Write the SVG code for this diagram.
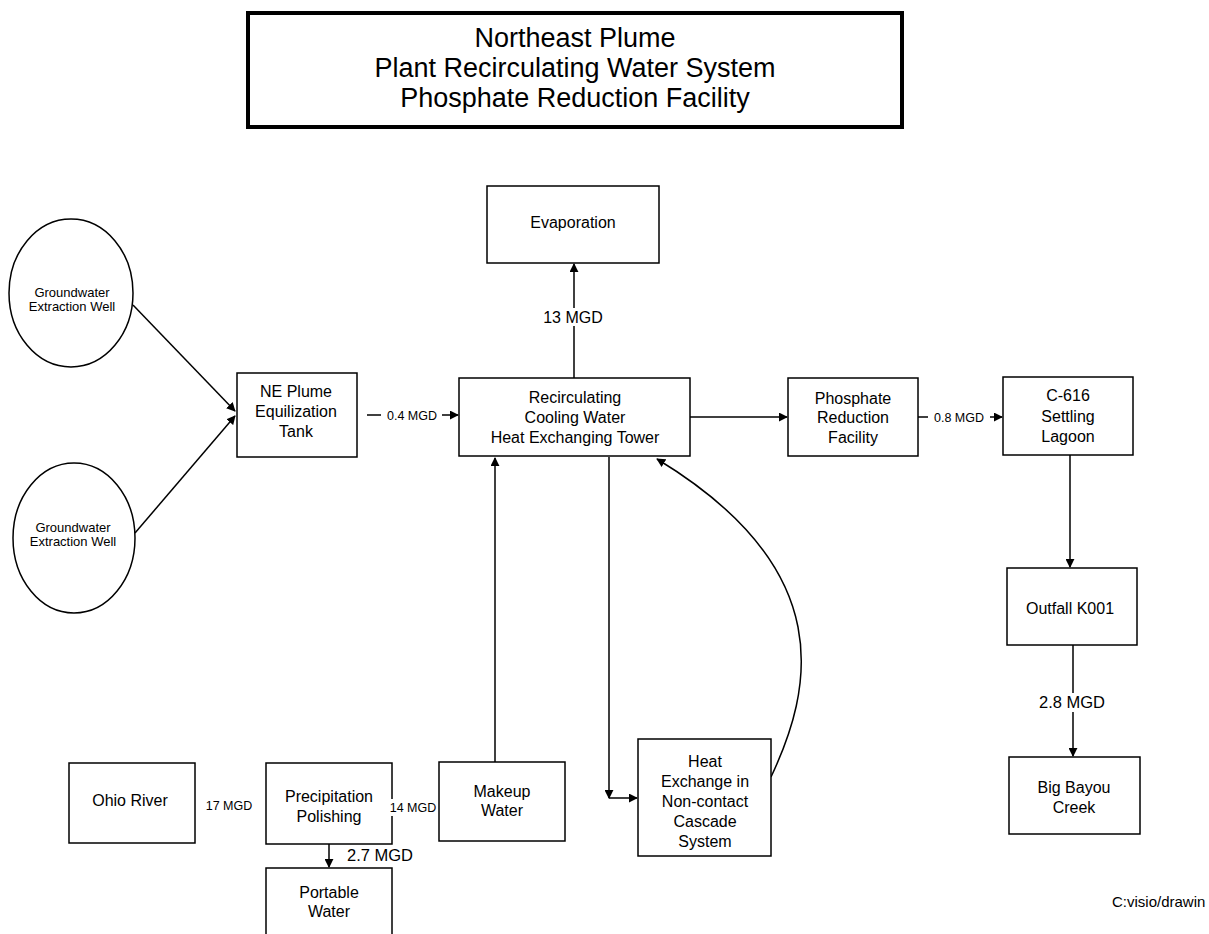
<svg xmlns="http://www.w3.org/2000/svg" width="1209" height="934" viewBox="0 0 1209 934">
<style>
text{font-family:"Liberation Sans",Arial,sans-serif;fill:#000}
.box{fill:#fff;stroke:#000;stroke-width:1.5}
.t{font-size:16px;text-anchor:middle}
.s{font-size:13px;text-anchor:middle}
.lbl{font-size:12.5px;text-anchor:middle}
.big{font-size:16.5px;text-anchor:middle}
.ttl{font-size:27px;text-anchor:middle}
.c{fill:none;stroke:#000;stroke-width:1.5}
.bg{fill:#fff}
</style>
<defs>
<marker id="ah" viewBox="0 0 10 10" refX="9" refY="5" markerWidth="9" markerHeight="9" markerUnits="userSpaceOnUse" orient="auto"><path d="M0,0 L10,5 L0,10 z" fill="#000"/></marker>
</defs>
<rect width="1209" height="934" fill="#fff"/>
<g id="title">
<rect x="248" y="13" width="654" height="114" fill="#fff" stroke="#000" stroke-width="4"/>
<text class="ttl" x="575" y="47">Northeast Plume</text>
<text class="ttl" x="575" y="77">Plant Recirculating Water System</text>
<text class="ttl" x="575" y="107">Phosphate Reduction Facility</text>
</g>
<g id="connectors">
<line class="c" x1="133" y1="305" x2="235" y2="411" marker-end="url(#ah)"/>
<line class="c" x1="135" y1="533" x2="235" y2="416" marker-end="url(#ah)"/>
<line class="c" x1="367" y1="415" x2="458" y2="415" marker-end="url(#ah)"/>
<line class="c" x1="574" y1="378" x2="574" y2="264" marker-end="url(#ah)"/>
<line class="c" x1="690" y1="417" x2="787" y2="417" marker-end="url(#ah)"/>
<line class="c" x1="918" y1="417" x2="1002" y2="417" marker-end="url(#ah)"/>
<line class="c" x1="1070" y1="455" x2="1070" y2="567" marker-end="url(#ah)"/>
<line class="c" x1="1073" y1="645" x2="1073" y2="756" marker-end="url(#ah)"/>
<line class="c" x1="495" y1="762" x2="495" y2="458" marker-end="url(#ah)"/>
<line class="c" x1="609" y1="457" x2="609" y2="798" marker-end="url(#ah)"/>
<line class="c" x1="609" y1="798" x2="637" y2="798" marker-end="url(#ah)"/>
<path class="c" d="M771,777 C812,690 840,570 657,459" marker-end="url(#ah)"/>
<line class="c" x1="329" y1="844" x2="329" y2="867" marker-end="url(#ah)"/>
<rect class="bg" x="381" y="407" width="61" height="16"/>
<text class="lbl" x="412" y="420">0.4  MGD</text>
<rect class="bg" x="540" y="308" width="66" height="18"/>
<text x="573" y="323" font-size="16" text-anchor="middle">13 MGD</text>
<rect class="bg" x="928" y="409" width="62" height="16"/>
<text class="lbl" x="959" y="422">0.8 MGD</text>
<rect class="bg" x="1037" y="693" width="72" height="19"/>
<text class="big" x="1072" y="708">2.8 MGD</text>
<text class="lbl" x="229" y="810">17 MGD</text>
<text class="big" x="380" y="861">2.7 MGD</text>
</g>
<g id="well1">
<ellipse cx="71" cy="293" rx="62" ry="74" fill="#fff" stroke="#000" stroke-width="1.5"/>
<text class="s" x="72" y="297">Groundwater</text>
<text class="s" x="72" y="311">Extraction Well</text>
</g>
<g id="well2">
<ellipse cx="74" cy="538" rx="61" ry="75" fill="#fff" stroke="#000" stroke-width="1.5"/>
<text class="s" x="73" y="532">Groundwater</text>
<text class="s" x="73" y="546">Extraction Well</text>
</g>
<g id="ne-tank">
<rect class="box" x="237" y="373" width="120" height="84"/>
<text class="t" x="296" y="397">NE Plume</text>
<text class="t" x="296" y="417">Equilization</text>
<text class="t" x="296" y="437">Tank</text>
</g>
<g id="tower">
<rect class="box" x="459" y="378" width="231" height="78"/>
<text class="t" x="575" y="403">Recirculating</text>
<text class="t" x="575" y="423">Cooling Water</text>
<text class="t" x="575" y="443">Heat Exchanging Tower</text>
</g>
<g id="evaporation">
<rect class="box" x="487" y="186" width="172" height="77"/>
<text class="t" x="573" y="228">Evaporation</text>
</g>
<g id="phosphate">
<rect class="box" x="788" y="378" width="130" height="78"/>
<text class="t" x="853" y="404">Phosphate</text>
<text class="t" x="853" y="423">Reduction</text>
<text class="t" x="853" y="443">Facility</text>
</g>
<g id="c616">
<rect class="box" x="1003" y="377" width="130" height="78"/>
<text class="t" x="1068" y="401">C-616</text>
<text class="t" x="1068" y="422">Settling</text>
<text class="t" x="1068" y="442">Lagoon</text>
</g>
<g id="outfall">
<rect class="box" x="1007" y="568" width="130" height="77"/>
<text class="t" x="1070" y="614">Outfall K001</text>
</g>
<g id="bigbayou">
<rect class="box" x="1009" y="757" width="131" height="77"/>
<text class="t" x="1074" y="793">Big Bayou</text>
<text class="t" x="1074" y="813">Creek</text>
</g>
<g id="heat-exchange">
<rect class="box" x="638" y="739" width="133" height="117"/>
<text class="t" x="705" y="767">Heat</text>
<text class="t" x="705" y="787">Exchange in</text>
<text class="t" x="705" y="807">Non-contact</text>
<text class="t" x="705" y="827">Cascade</text>
<text class="t" x="705" y="847">System</text>
</g>
<g id="makeup">
<rect class="box" x="439" y="762" width="126" height="79"/>
<text class="t" x="502" y="797">Makeup</text>
<text class="t" x="502" y="816">Water</text>
</g>
<g id="polishing">
<rect class="box" x="266" y="763" width="126" height="81"/>
<text class="t" x="329" y="802">Precipitation</text>
<text class="t" x="329" y="822">Polishing</text>
</g>
<rect class="bg" x="389" y="799" width="48" height="17"/>
<text class="lbl" x="413" y="812">14 MGD</text>
<g id="ohio">
<rect class="box" x="69" y="763" width="126" height="80"/>
<text class="t" x="130" y="806">Ohio River</text>
</g>
<g id="portable">
<rect class="box" x="266" y="868" width="126" height="80"/>
<text class="t" x="329" y="898">Portable</text>
<text class="t" x="329" y="917">Water</text>
</g>
<text x="1112" y="907" font-size="15">C:visio/drawin</text>
</svg>
